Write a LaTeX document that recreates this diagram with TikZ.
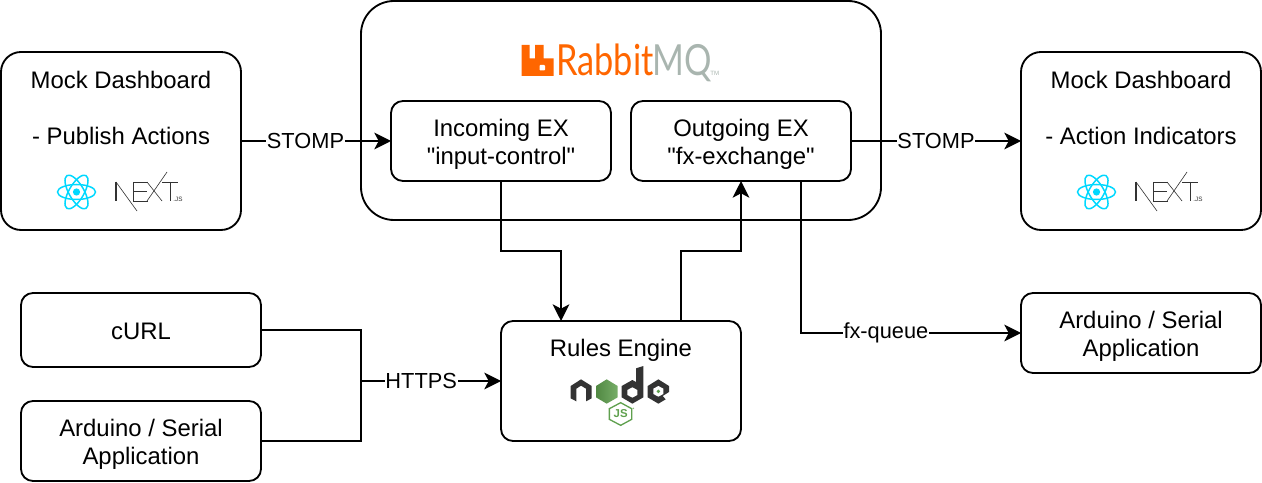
\documentclass[tikz,border=0pt]{standalone}
\usepackage{fontspec}
\setmainfont{Liberation Sans}
\newfontfamily\plainfont{Liberation Sans}
\newfontfamily\rabbitfont[FakeStretch=0.8]{Lato}
\usepackage{xcolor}
\usepackage{tikz}
\usetikzlibrary{arrows.meta, positioning}

\definecolor{rabbitorange}{HTML}{FF6600}
\definecolor{rabbitgrey}{HTML}{A9B5AF}
\definecolor{reactblue}{HTML}{00D8FF}
\definecolor{nodegreen}{HTML}{5FA04E}
\definecolor{nodedark}{HTML}{333333}

\tikzset{
    reactlogo/.pic={
        \begin{scope}[x=0.02cm, y=-0.02cm, draw=reactblue, line width=0.85pt]
            \draw (0,0) ellipse [x radius=19, y radius=7.5];
            \draw[rotate=60] (0,0) ellipse [x radius=19, y radius=7.5];
            \draw[rotate=120] (0,0) ellipse [x radius=19, y radius=7.5];
            \fill[reactblue] (0,0) circle (3.6);
        \end{scope}
    },
    nextlogo/.pic={
        \begin{scope}[x=0.02cm, y=-0.02cm, black!80, line width=0.35pt]
            \draw[line width=0.7pt] (0,0) -- (0,19);
            \draw (0,0) -- (21,29);
            \draw (17,0) -- (17,19) (17,0) -- (32,0) (17,9) -- (31,9) (17,19) -- (32,19);
            \draw (31,0) -- (46,19) (31,19) -- (51,-10);
            \draw (46,0) -- (62,0) (54,0) -- (54,19);
            \node (nextjs) [inner sep=0, font=\fontsize{3.6}{4}\selectfont] at (62,17) {.JS};
        \end{scope}
    },
    nodelogo/.pic={
        \begin{scope}[x=0.00667cm, y=-0.00667cm]
            \fill[nodedark] (62,78) -- (93,58) -- (125,78) -- (125,115) -- (108,124) -- (108,86)
                -- (93,77) -- (79,86) -- (79,124) -- (62,115) -- cycle;
            \shade[left color=nodegreen!85!black, right color=nodegreen!85!white]
                (170,58) -- (203,78) -- (203,112) -- (170,131) -- (138,112) -- (138,78) -- cycle;
            \fill[nodedark] (258,25) -- (280,18) -- (280,112) -- (247,131) -- (215,112)
                -- (215,78) -- (247,60) -- (258,66) -- cycle;
            \fill[white] (247,82) -- (262,90) -- (262,105) -- (247,113) -- (232,105) -- (232,90) -- cycle;
            \fill[nodedark] (325,58) -- (357,78) -- (357,96) -- (338,108) -- (347,118)
                -- (325,131) -- (293,112) -- (293,78) -- cycle;
            \fill[white] (325,78) -- (340,86) -- (340,102) -- (325,110) -- (310,102) -- (310,86) -- cycle;
            \fill[nodegreen] (325,94) circle (5.5);
            \draw[nodegreen, line width=0.75pt] (212,128) -- (245,146) -- (245,178) -- (212,196)
                -- (178,178) -- (178,146) -- cycle;
            \node (nodejs) [inner sep=0, text=nodegreen, font=\bfseries\fontsize{6.5}{7}\selectfont] at (212,162) {JS};
            \fill[nodegreen!70] (250,145) circle (2.5);
        \end{scope}
    },
}

\begin{document}
\begin{tikzpicture}
    \tikzstyle{box} = [rectangle, rounded corners=0.24cm, draw=black, line width=1.05pt, outer sep=0pt,
                       minimum width=4.8cm, minimum height=1.6cm, align=center,
                       font=\plainfont\fontsize{13.6}{15.9}\selectfont]
    \tikzstyle{dashbox} = [box, rounded corners=0.4cm, minimum height=3.56cm]
    \tikzstyle{exbox} = [box, minimum width=4.4cm]
    \tikzstyle{txt} = [inner sep=0pt, align=center, font=\fontsize{13.6}{15.9}\selectfont]
    \tikzstyle{lbl} = [inner sep=0.5pt, fill=white, font=\fontsize{12.4}{14}\selectfont]
    \tikzstyle{lin} = [line width=1.05pt, color=black]
    \tikzstyle{arr} = [lin, -{Stealth[length=9.5pt, width=9.5pt, inset=2.5pt]}]

    \useasboundingbox (0,0) rectangle (25.24,9.64);

    \node (rabbit)   [box, rounded corners=0.66cm, minimum width=10.4cm, minimum height=4.38cm] at (12.42,7.43) {};
    \node (dashl)    [dashbox] at (2.42,6.82) {};
    \node (incoming) [exbox, right=3cm of dashl]      {\rule{0pt}{13.5pt}Incoming EX\\"input-control"};
    \node (outgoing) [exbox, right=0.4cm of incoming] {\rule{0pt}{13.5pt}Outgoing EX\\"fx-exchange"};
    \node (dashr)    [dashbox, right=3.4cm of outgoing] {};
    \node (rules)    [box, minimum height=2.4cm] at (12.42,2.02) {};
    \node (curl)     [box, minimum height=1.48cm] at (2.82,3.04) {\rule{0pt}{11pt}cURL};
    \node (ardl)     [box, below=0.68cm of curl]   {\rule{0pt}{13.5pt}Arduino / Serial\\Application};
    \node (ardr)     [box] at (22.82,2.98)         {\rule{0pt}{13.5pt}Arduino / Serial\\Application};

    \node (dashltxt) [txt] at ([yshift=-1.12cm]dashl.north) {Mock Dashboard\\[15.9pt]- Publish Actions};
    \node (dashrtxt) [txt] at ([yshift=-1.12cm]dashr.north) {Mock Dashboard\\[15.9pt]- Action Indicators};
    \node (rulestxt) [txt] at ([yshift=-0.58cm]rules.north) {Rules Engine};

    \fill[rabbitorange] (10.43,8.74) -- (10.59,8.74) -- (10.59,8.47) -- (10.70,8.47) -- (10.70,8.74)
        -- (10.87,8.74) -- (10.87,8.47) -- (11.07,8.47) -- (11.07,8.12) -- (10.43,8.12) -- cycle;
    \fill[white, rounded corners=0.5pt] (10.79,8.34) rectangle (10.90,8.23);
    \node (rabbittxt) [inner sep=0pt, anchor=base west, text=rabbitorange, font=\rabbitfont\fontsize{24.4}{26}\selectfont] at (11.12,8.12) {Rabbit};
    \node (mqtxt)     [inner sep=0pt, anchor=base west, text=rabbitgrey, font=\rabbitfont\fontsize{24.4}{26}\selectfont] at (13.04,8.12) {MQ};
    \node (tmtxt)     [inner sep=0pt, anchor=base west, text=rabbitgrey, font=\fontsize{3.5}{4}\selectfont] at (14.2,8.12) {TM};

    \pic at (1.53,5.80) {reactlogo};
    \pic at (2.32,6.00) {nextlogo};
    \pic at (21.93,5.80) {reactlogo};
    \pic at (22.72,6.00) {nextlogo};
    \pic at (11,2.44) {nodelogo};

    \coordinate (rulesin)  at ([xshift=-1.2cm]rules.north);
    \coordinate (rulesout) at ([xshift=1.2cm]rules.north);
    \coordinate (fxout)    at ([xshift=1.2cm]outgoing.south);
    \coordinate (join)     at (7.22,2.02);

    \draw[arr] (dashl) -- node[lbl, pos=0.43] {STOMP} (incoming);
    \draw[arr] (outgoing) -- node[lbl] {STOMP} (dashr);
    \draw[arr] (incoming.south) -- ++(0,-1.4) -| (rulesin);
    \draw[arr] (rulesout) -- ++(0,1.4) -| (outgoing.south);
    \draw[arr] (fxout) |- node[lbl, pos=0.693] {fx-queue} (ardr.west);
    \draw[lin] (curl.east) -| (join);
    \draw[lin] (ardl.east) -| (join);
    \draw[arr] (join) -- node[lbl, pos=0.43] {HTTPS} (rules.west);
\end{tikzpicture}
\end{document}
